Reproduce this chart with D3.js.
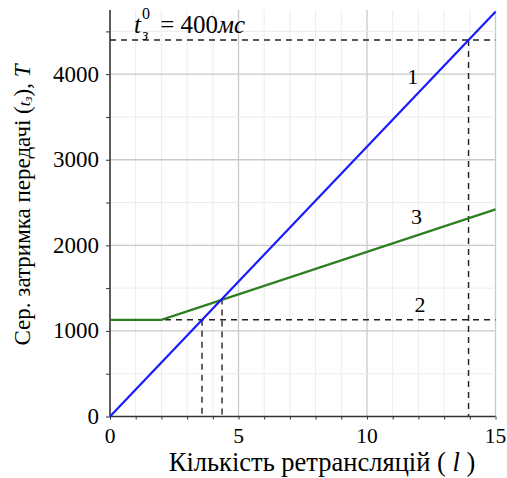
<!DOCTYPE html>
<html><head><meta charset="utf-8">
<script src="https://cdn.jsdelivr.net/npm/d3@7"></script>
</head><body style="margin:0">
<script>
// Data
const lineBlueL = [0, 15];
const lineBlueT = [0, 4730];
const lineGreenL = [0, 2, 15];
const lineGreenT = [1130, 1130, 2420];
const xTicks = [0, 5, 10, 15];
const yTicks = [0, 1000, 2000, 3000, 4000];
const refT0 = 4400;      // t_з^0 level
const refL0 = 13.95;
const level2 = 1130;
const cross2L = 3.58;
const cross3L = 4.36, cross3T = 1380;
const curveLabels = [{t:"1", l:11.78, T:3885}, {t:"3", l:11.93, T:2250}, {t:"2", l:12.06, T:1221}];

const W = 507, H = 478;
const FONT = '"Liberation Serif"';
const svg = d3.select("body").append("svg").attr("width", W).attr("height", H);
const x = d3.scaleLinear().domain([0, 15]).range([110, 495.5]);
const y = d3.scaleLinear().domain([0, 4750]).range([416.5, 10]);

// grid
const g = svg.append("g");
g.selectAll(".vminor").data(d3.range(0, 16, 1)).join("line")
  .attr("x1", d => x(d)).attr("x2", d => x(d)).attr("y1", y(0)).attr("y2", y(4750))
  .attr("stroke", d => d % 5 === 0 ? "#c9c9c9" : "#ececec").attr("stroke-width", d => d % 5 === 0 ? 1.3 : 1);
g.selectAll(".hminor").data(d3.range(500, 4751, 500)).join("line")
  .attr("y1", d => y(d)).attr("y2", d => y(d)).attr("x1", x(0)).attr("x2", x(15))
  .attr("stroke", d => d % 1000 === 0 ? "#c9c9c9" : "#ececec").attr("stroke-width", d => d % 1000 === 0 ? 1.3 : 1);

// dashed reference lines
const dash = svg.append("g").attr("stroke", "#222").attr("stroke-width", 1.4).attr("stroke-dasharray", "6,5").attr("fill", "none");
const segs = [
  [[0, refT0], [15, refT0]],
  [[refL0, refT0], [refL0, 0]],
  [[0, level2], [15, level2]],
  [[cross2L, level2], [cross2L, 0]],
  [[cross3L, cross3T], [cross3L, 0]]
];
const lg = d3.line().x(d => x(d[0])).y(d => y(d[1]));
dash.selectAll("path").data(segs).join("path").attr("d", lg);

// axes
const xAxis = d3.axisBottom(x).tickValues(d3.range(0, 16, 1)).tickSize(3).tickFormat("");
const yAxis = d3.axisLeft(y).tickValues(d3.range(0, 4751, 500)).tickSize(4).tickFormat("");
const ax = svg.append("g").attr("transform", `translate(0,${y(0)})`).call(xAxis);
const ay = svg.append("g").attr("transform", `translate(${x(0)},0)`).call(yAxis);
[ax, ay].forEach(a => {
  a.attr("font-family", null).attr("font-size", null);
  a.selectAll("text").remove();
  a.select(".domain").attr("stroke", "#333").attr("stroke-width", 1.5);
  a.selectAll(".tick line").attr("stroke", "#333");
});
ay.select(".domain").attr("d", `M-0,${y(0)}V${y(4750)}`);
ax.select(".domain").attr("d", `M${x(0)},0H${x(15)}`);

const labels = svg.append("g");
labels.selectAll(".xl").data(xTicks).join("text").attr("class", "xl")
  .attr("x", d => x(d)).attr("y", 443).attr("text-anchor", "middle").attr("font-size", 21.5).style("font-family", FONT).text(d => d);
labels.selectAll(".yl").data(yTicks).join("text").attr("class", "yl")
  .attr("x", 99).attr("y", d => y(d) + 7.5).attr("text-anchor", "end").attr("font-size", 23).style("font-family", FONT).text(d => d);

// curves
const line = d3.line().x(d => x(d[0])).y(d => y(d[1]));
svg.append("path").datum(lineGreenL.map((l, i) => [l, lineGreenT[i]])).attr("d", line)
  .attr("fill", "none").attr("stroke", "#2e7d22").attr("stroke-width", 2.2);
svg.append("path").datum(lineBlueL.map((l, i) => [l, lineBlueT[i]])).attr("d", line)
  .attr("fill", "none").attr("stroke", "#1a1aff").attr("stroke-width", 2.2);

// curve labels
svg.append("g").selectAll("text").data(curveLabels).join("text")
  .attr("x", d => x(d.l)).attr("y", d => y(d.T)).attr("text-anchor", "middle").attr("font-size", 22).style("font-family", FONT).text(d => d.t);

// annotation
const ann = svg.append("text").attr("x", 134).attr("y", 33).attr("font-size", 25).style("font-family", FONT);
ann.append("tspan").attr("font-style", "italic").text("t");
ann.append("tspan").attr("font-size", 16).attr("dx", 1).attr("dy", -14).text("0");
ann.append("tspan").attr("font-size", 16).attr("font-style", "italic").attr("dx", -8).attr("dy", 21).text("з");
ann.append("tspan").attr("dy", -7).attr("dx", 12).text("= 400");
ann.append("tspan").attr("font-style", "italic").text("мс");

// axis titles
const xt = svg.append("text").attr("x", 322).attr("y", 471).attr("text-anchor", "middle").attr("font-size", 26.5).style("font-family", FONT);
xt.append("tspan").text("Кількість ретрансляцій ( ");
xt.append("tspan").attr("font-style", "italic").text("l");
xt.append("tspan").text(" )");

const yt = svg.append("text").attr("transform", "translate(30,205) rotate(-90)").attr("text-anchor", "middle").attr("font-size", 23).style("font-family", FONT);
yt.append("tspan").text("Сер. затримка передачі (");
yt.append("tspan").attr("font-style", "italic").attr("font-size", 17).text("t");
yt.append("tspan").attr("font-style", "italic").attr("font-size", 13).attr("dy", 2).text("з");
yt.append("tspan").attr("dy", -2).text("), ");
yt.append("tspan").attr("font-style", "italic").text("T");
</script>
</body></html>
